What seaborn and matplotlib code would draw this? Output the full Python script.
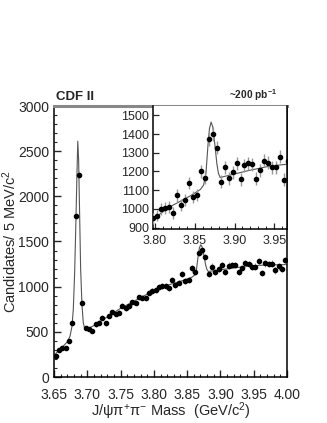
import numpy as np
import pandas as pd
import matplotlib
matplotlib.use("Agg")
import matplotlib.pyplot as plt
from matplotlib.ticker import MultipleLocator
import seaborn as sns

# -----------------------------
# DATA
# -----------------------------
# 5 MeV bins, 3.65 - 4.00 GeV
bin_lo = 3.65
bin_width = 0.005
counts = [
    236, 300, 325, 325, 398, 594, 1786, 2236, 823, 546,
    528, 509, 583, 601, 657, 594, 675, 716, 697, 712,
    789, 760, 786, 827, 823, 882, 878, 871, 933, 950,
    964, 998, 1005, 1010, 980, 1072, 1022, 1046, 1138, 1065,
    1076, 1202, 1166, 1371, 1401, 1328, 1145, 1222, 1163, 1197,
    1243, 1158, 1234, 1243, 1239, 1161, 1206, 1257, 1248, 1223,
    1223, 1280, 1156, 1257, 1250, 1255, 1180, 1225, 1195, 1290,
]

# fit curve
fit_mass = [
    3.650, 3.655, 3.660, 3.665, 3.670, 3.674, 3.677, 3.679, 3.681, 3.683,
    3.6845, 3.6857, 3.687, 3.6885, 3.690, 3.692, 3.694, 3.696, 3.700, 3.710,
    3.750, 3.797, 3.819, 3.844, 3.857, 3.861, 3.864, 3.8667, 3.8684, 3.8705,
    3.8726, 3.8751, 3.8777, 3.8797, 3.8819, 3.8945, 3.9196, 3.9448, 3.966, 4.000,
]
fit_counts = [
    235, 280, 320, 350, 390, 450, 560, 750, 1150, 1750,
    2250, 2610, 2400, 1800, 1200, 800, 600, 540, 530, 570,
    760, 945, 1012, 1069, 1104, 1127, 1190, 1349, 1429, 1464,
    1438, 1349, 1243, 1190, 1168, 1181, 1207, 1229, 1239, 1245,
]

mass = bin_lo + bin_width * (np.arange(len(counts)) + 0.5)
df = pd.DataFrame({"mass": mass, "counts": counts})
df["err"] = np.sqrt(df["counts"])
fit = pd.DataFrame({"mass": fit_mass, "counts": fit_counts})

# -----------------------------
# STYLE
# -----------------------------
sns.set_style("ticks")
plt.rcParams["font.family"] = ["Liberation Sans", "DejaVu Sans"]
plt.rcParams["mathtext.fontset"] = "custom"
plt.rcParams["mathtext.rm"] = "Liberation Sans"
plt.rcParams["mathtext.it"] = "Liberation Sans"
plt.rcParams["mathtext.bf"] = "Liberation Sans:bold"

fig = plt.figure(figsize=(3.27, 4.23), dpi=100)
ax = fig.add_axes([54 / 327, 46 / 423, 233 / 327, 271 / 423])
axin = fig.add_axes([152.7 / 327, 193.5 / 423, 134.3 / 327, 123.5 / 423])


def draw(a, ms, elw):
    sns.lineplot(data=fit, x="mass", y="counts", ax=a, color="#555555",
                 lw=0.8, sort=False, zorder=2)
    a.errorbar(df["mass"], df["counts"], yerr=df["err"], fmt="o",
               ms=ms, color="black", ecolor="#999999", elinewidth=elw,
               capsize=0, zorder=3)
    a.set_xlabel("")
    a.set_ylabel("")


# -----------------------------
# MAIN PLOT
# -----------------------------
draw(ax, 3.0, 0.8)
ax.set_xlim(3.65, 4.00)
ax.set_ylim(0, 3000)
ax.xaxis.set_major_locator(MultipleLocator(0.05))
ax.xaxis.set_minor_locator(MultipleLocator(0.01))
ax.yaxis.set_major_locator(MultipleLocator(500))
ax.yaxis.set_minor_locator(MultipleLocator(100))
ax.xaxis.set_major_formatter(plt.FuncFormatter(lambda v, p: f"{v:.2f}"))
ax.tick_params(which="both", direction="in", labelsize=10, top=False, right=False)
ax.tick_params(which="major", length=5, width=1)
ax.tick_params(which="minor", length=2.5, width=0.8)
ax.tick_params(axis="x", which="major", pad=8)
for s in ["left", "bottom", "right"]:
    ax.spines[s].set_linewidth(1.1)
    ax.spines[s].set_color("black")
ax.spines["top"].set_color("#888888")
ax.spines["top"].set_linewidth(2.2)
ax.spines["right"].set_visible(True)
ax.spines["top"].set_visible(True)

ax.set_ylabel("Candidates/ 5 MeV/c$^{2}$", fontsize=10.5)
ax.set_xlabel("J/ψπ$^{+}$π$^{-}$ Mass  (GeV/c$^{2}$)", fontsize=10.5)
ax.yaxis.set_label_coords(-0.15, 0.5)
ax.xaxis.set_label_coords(0.5, -0.088)

ax.text(0.01, 1.012, "CDF II", transform=ax.transAxes, fontsize=9.5,
        fontweight="bold", ha="left", va="bottom")
ax.text(0.955, 1.012, "~200 pb$^{\\mathbf{-1}}$", transform=ax.transAxes,
        fontsize=7.3, fontweight="bold", ha="right", va="bottom")

# -----------------------------
# INSET
# -----------------------------
draw(axin, 3.0, 1.0)
axin.set_xlim(3.797, 3.966)
axin.set_ylim(890, 1550)
axin.xaxis.set_major_locator(MultipleLocator(0.05))
axin.xaxis.set_minor_locator(MultipleLocator(0.01))
axin.yaxis.set_major_locator(MultipleLocator(100))
axin.xaxis.set_major_formatter(plt.FuncFormatter(lambda v, p: f"{v:.2f}"))
axin.tick_params(which="both", direction="in", labelsize=9, pad=2.5)
axin.tick_params(axis="x", which="major", pad=4)
axin.tick_params(which="major", length=4, width=0.9)
axin.tick_params(which="minor", length=2, width=0.7)
axin.spines["top"].set_visible(False)
for s in ["left", "bottom", "right"]:
    axin.spines[s].set_linewidth(1.1)
    axin.spines[s].set_color("black")

fig.savefig("out.png", dpi=100)
